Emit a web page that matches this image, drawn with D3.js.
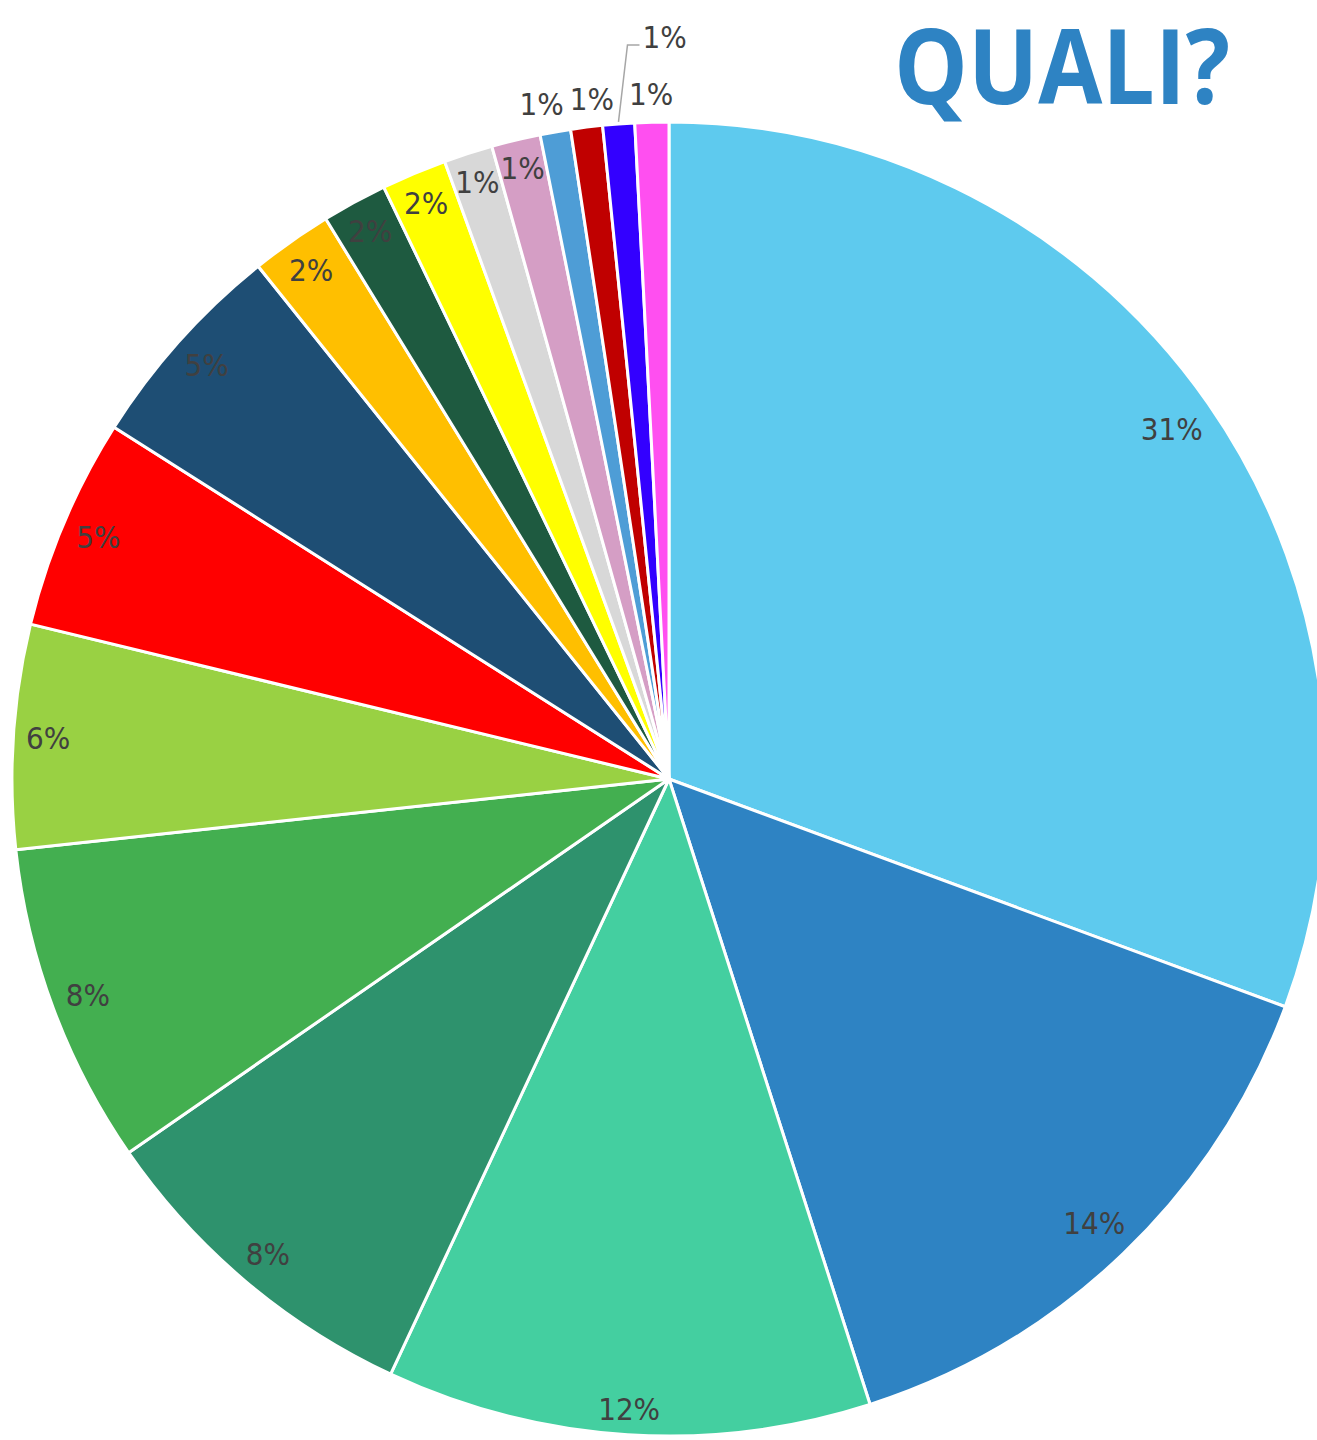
<!DOCTYPE html>
<html><head><meta charset="utf-8">
<script src="https://cdn.jsdelivr.net/npm/d3@7"></script>
<style>
html,body{margin:0;padding:0;background:#fff;overflow:hidden}
svg{display:block}
</style></head>
<body>
<script>
// data (shares)
const categories = ["A","B","C","D","E","F","G","H","I","J","K","L","M","N","O","P","Q"];
const values = [30.6, 14.4, 11.9, 8.4, 7.9, 5.5, 5.2, 5.25, 2.0, 1.6, 1.6, 1.2, 1.2, 0.75, 0.78, 0.78, 0.83];
const colors = ["#5ECAEE","#2E83C3","#44CFA0","#2E926D","#43AF50","#99D143","#FF0000","#1E4E74",
                "#FFBF00","#1E5A40","#FFFF00","#D8D8D8","#D59EC5","#4E9DD6","#C00000","#3300FF","#FF4FF0"];
const title = "QUALI?";

const W = 1317, H = 1440;
const cx = 669, cy = 779, R = 657;
const svg = d3.select("body").append("svg").attr("width", W).attr("height", H);

const total = d3.sum(values);
const data = categories.map((c, i) => ({cat: c, value: values[i], color: colors[i]}));
const pie = d3.pie().value(d => d.value).sort(null);
const arcs = pie(data);
const arc = d3.arc().innerRadius(0).outerRadius(R);

const g = svg.append("g").attr("transform", `translate(${cx},${cy})`);
g.selectAll("path.slice").data(arcs).join("path")
  .attr("class", "slice")
  .attr("d", arc)
  .attr("fill", d => d.data.color)
  .attr("stroke", "#fff").attr("stroke-width", 3).attr("stroke-linejoin", "round");

const fmt = d => Math.round(d.data.value / total * 100) + "%";
const FS = 31;
const font = "'DejaVu Sans Condensed', sans-serif";
const labelColor = "#404040";

const pad = 12;
const gapMin = 6;
const lg = g.append("g");
let last = null; // last outside label at base level
arcs.forEach(d => {
  const share = d.data.value / total * 100;
  const mid = (d.startAngle + d.endAngle) / 2;
  const sx = Math.sin(mid), sy = -Math.cos(mid);
  const t = lg.append("text").text(fmt(d))
    .attr("font-family", font).attr("font-size", FS)
    .attr("fill", labelColor).attr("text-anchor", "middle").attr("dy", "0.35em");
  const bb = t.node().getBBox();
  const hw = bb.width / 2, hh = 12;
  if (share >= 1) {
    const rr = R - pad - (Math.abs(hw * sx) + Math.abs(hh * sy));
    t.attr("x", rr * sx).attr("y", rr * sy);
    return;
  }
  const rr = R + 28;
  let x = rr * sx, y = rr * sy;
  const item = {t, x, hw, shifted: false};
  if (last) {
    const need = last.hw + hw + gapMin;
    const dist = x - last.x;
    if (dist < need) {
      if (!last.shifted) {
        const half = (need - dist) / 2;
        last.x -= half; last.t.attr("x", last.x);
        item.x = x + half; item.shifted = true;
      } else {
        // push outward with a leader line
        const p0 = [(R + 2) * sx, (R + 2) * sy];
        const elbow = [p0[0] + 9, -R - 77];
        const end = [elbow[0] + 12, elbow[1]];
        lg.append("polyline")
          .attr("points", [p0, elbow, end].map(p => p.join(",")).join(" "))
          .attr("fill", "none").attr("stroke", "#A6A6A6").attr("stroke-width", 1.5);
        t.attr("text-anchor", "start").attr("x", end[0] + 3).attr("y", end[1] - 8);
        return;
      }
    }
  }
  t.attr("x", item.x).attr("y", y);
  last = item;
});

const tg = svg.append("g");
const tt = tg.append("text").text(title)
  .attr("x", 0).attr("y", 0)
  .attr("text-anchor", "end")
  .attr("font-family", "'Open Sans', sans-serif").attr("font-weight", 700)
  .attr("font-size", 104).attr("fill", "#2E83C3");
const tw = tt.node().getBBox().width;
tg.attr("transform", `translate(1230,104) scale(${336 / tw},1)`);
</script>
</body></html>
